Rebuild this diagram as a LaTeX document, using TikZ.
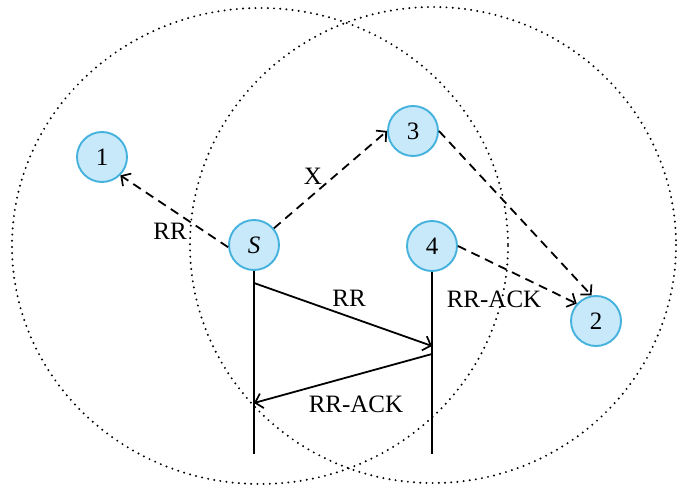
\documentclass[tikz,border=0pt]{standalone}
\usepackage{fontspec}
\setmainfont{Liberation Serif}
\usetikzlibrary{arrows.meta}
\definecolor{nodefill}{HTML}{C8E9FA}
\definecolor{nodeline}{HTML}{45B2DE}
\begin{document}
\begin{tikzpicture}[x=1pt,y=-1pt,
  every node/.style={font=\fontsize{25}{29}\selectfont},
  station/.style={circle,draw=nodeline,fill=nodefill,line width=1.9pt,minimum size=50pt,inner sep=0pt},
  txrange/.style={line width=2.2pt,dash pattern=on 0pt off 6.2pt,line cap=round},
  msg/.style={line width=1.8pt,-{Straight Barb[length=7pt,width=15pt,line width=1.7pt]}},
  bcast/.style={msg,dash pattern=on 9pt off 6pt},
  life/.style={line width=1.8pt},
  lbl/.style={inner sep=0pt}]
\useasboundingbox (0,0) rectangle (680,489);
\fill[white] (0,0) rectangle (680,489);
% transmission ranges
\draw[txrange] (260,246) ellipse [x radius=248, y radius=238];
\draw[txrange] (433,245) ellipse [x radius=243, y radius=238];
% stations
\node[station] (n1) at (102,157) {1};
\node[station] (n3) at (413,131) {3};
\node[station] (S)  at (254,245) {\itshape S};
\node[station] (n4) at (432,246) {4};
\node[station] (n2) at (596,321) {2};
% lifelines
\coordinate (Sbot) at (254,454);
\coordinate (Fbot) at (432,454);
\draw[life] (S.south) -- (Sbot);
\draw[life] (n4.south) -- (Fbot);
% message points
\coordinate (a1) at (254,283);
\coordinate (a2) at (432,346);
\coordinate (b1) at (432,354);
\coordinate (b2) at (254,403);
\draw[msg] (a1) -- (a2);
\draw[msg] (b1) -- (b2);
% broadcast arrows
\draw[bcast] (S.185) -- (n1.-45);
\draw[bcast] (S.40) -- (n3.west);
\draw[bcast] (n3.east) -- (n2.100);
\draw[bcast] (n4.east) -- (n2.138);
% labels
\node[lbl] (l1) at (170,231) {RR};
\node[lbl] (l2) at (313,176) {X};
\node[lbl] (l3) at (349,298) {RR};
\node[lbl] (l4) at (356,404) {RR-ACK};
\node[lbl] (l5) at (494,299) {RR-ACK};
\end{tikzpicture}
\end{document}
